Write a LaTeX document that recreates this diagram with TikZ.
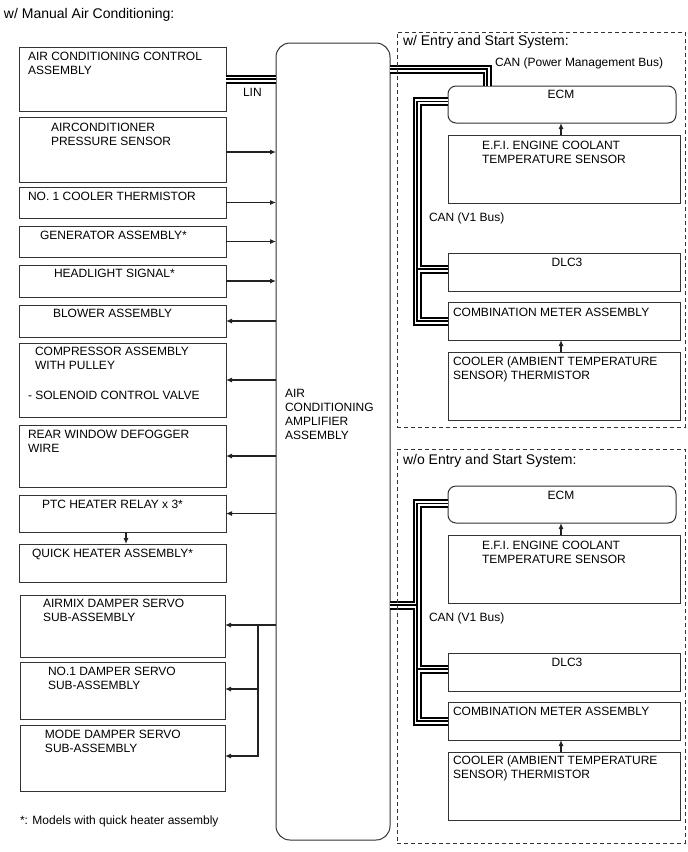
\documentclass[tikz,border=0pt]{standalone}
\usepackage{fontspec}
\setmainfont{Liberation Sans}
\usetikzlibrary{arrows.meta}
\definecolor{boxc}{HTML}{333333}
\definecolor{linec}{HTML}{222222}
\begin{document}
\begin{tikzpicture}[x=1pt,y=-1pt,
  box/.style={draw=boxc, line width=1pt, rectangle, inner sep=0pt, outer sep=0pt},
  rbox/.style={box, rounded corners=8pt},
  txt/.style={anchor=base west, inner sep=0pt, outer sep=0pt, font=\fontsize{12}{14}\selectfont},
  htxt/.style={anchor=base west, inner sep=0pt, outer sep=0pt, font=\fontsize{14}{16}\selectfont},
  ctxt/.style={anchor=base, inner sep=0pt, outer sep=0pt, font=\fontsize{12}{14}\selectfont},
  arr/.style={draw=linec, line width=1.1pt, -{Latex[length=6pt,width=5pt]}},
  dbox/.style={draw=boxc, line width=1pt, dash pattern=on 4pt off 3pt, rectangle, inner sep=0pt, outer sep=0pt},
]
\useasboundingbox[fill=white] (0,0) rectangle (688,852);

% title
\node[htxt] (title) at (4,18) {w/ Manual Air Conditioning:};

% left boxes
\node[box, minimum width=207pt, minimum height=64pt] (L1) at (122.5,79) {};
\node[box, minimum width=207pt, minimum height=65pt] (L2) at (122.5,149.5) {};
\node[box, minimum width=207pt, minimum height=31pt] (L3) at (122.5,202.5) {};
\node[box, minimum width=207pt, minimum height=31pt] (L4) at (122.5,241.5) {};
\node[box, minimum width=207pt, minimum height=32pt] (L5) at (122.5,281) {};
\node[box, minimum width=207pt, minimum height=32pt] (L6) at (122.5,321) {};
\node[box, minimum width=207pt, minimum height=74pt] (L7) at (122.5,380) {};
\node[box, minimum width=207pt, minimum height=62pt] (L8) at (122.5,456) {};
\node[box, minimum width=207pt, minimum height=37pt] (L9) at (122.5,513.5) {};
\node[box, minimum width=207pt, minimum height=38pt] (L10) at (122.5,563) {};
\node[box, minimum width=205pt, minimum height=62pt] (L11) at (122.5,626) {};
\node[box, minimum width=205pt, minimum height=57pt] (L12) at (122.5,690.5) {};
\node[box, minimum width=205pt, minimum height=66pt] (L13) at (122.5,758) {};

% left texts
\node[txt] (t1a) at (28,60) {AIR CONDITIONING CONTROL};
\node[txt] (t1b) at (28,74) {ASSEMBLY};
\node[txt] (t2a) at (51,131) {AIRCONDITIONER};
\node[txt] (t2b) at (51,145) {PRESSURE SENSOR};
\node[txt] (t3) at (28,200) {NO. 1 COOLER THERMISTOR};
\node[txt] (t4) at (40,239) {GENERATOR ASSEMBLY*};
\node[txt] (t5) at (54,277) {HEADLIGHT SIGNAL*};
\node[txt] (t6) at (53,317) {BLOWER ASSEMBLY};
\node[txt] (t7a) at (35,355) {COMPRESSOR ASSEMBLY};
\node[txt] (t7b) at (35,369) {WITH PULLEY};
\node[txt] (t7c) at (28,399) {- SOLENOID CONTROL VALVE};
\node[txt] (t8a) at (28,438) {REAR WINDOW DEFOGGER};
\node[txt] (t8b) at (28,452) {WIRE};
\node[txt] (t9) at (42,508) {PTC HEATER RELAY x 3*};
\node[txt] (t10) at (32,557) {QUICK HEATER ASSEMBLY*};
\node[txt] (t11a) at (43,607) {AIRMIX DAMPER SERVO};
\node[txt] (t11b) at (43,621) {SUB-ASSEMBLY};
\node[txt] (t12a) at (48,675) {NO.1 DAMPER SERVO};
\node[txt] (t12b) at (48,689) {SUB-ASSEMBLY};
\node[txt] (t13a) at (45,738) {MODE DAMPER SERVO};
\node[txt] (t13b) at (45,752) {SUB-ASSEMBLY};
\node[txt] (foot) at (20,824) {*: Models with quick heater assembly};

% amplifier
\node[box, rounded corners=14pt, minimum width=114pt, minimum height=797pt] (amp) at (333,441.5) {};
\node[txt] (ta1) at (285,397) {AIR};
\node[txt] (ta2) at (285,411) {CONDITIONING};
\node[txt] (ta3) at (285,425) {AMPLIFIER};
\node[txt] (ta4) at (285,439) {ASSEMBLY};

% right upper boxes
\node[rbox, minimum width=228pt, minimum height=37pt] (E1) at (562,104.5) {};
\node[box, minimum width=232pt, minimum height=68pt] (F1) at (564,169) {};
\node[box, minimum width=232pt, minimum height=38pt] (G1) at (564,272) {};
\node[box, minimum width=232pt, minimum height=38pt] (H1) at (564,321) {};
\node[box, minimum width=232pt, minimum height=68pt] (K1) at (564,386) {};
% right lower boxes
\node[rbox, minimum width=228pt, minimum height=37pt] (E2) at (562,504.5) {};
\node[box, minimum width=232pt, minimum height=68pt] (F2) at (564,569) {};
\node[box, minimum width=232pt, minimum height=38pt] (G2) at (564,672) {};
\node[box, minimum width=232pt, minimum height=38pt] (H2) at (564,721) {};
\node[box, minimum width=232pt, minimum height=68pt] (K2) at (564,786) {};

% right texts
\node[htxt] (ws1) at (403,45) {w/ Entry and Start System:};
\node[txt] (pmbl) at (495,66) {CAN (Power Management Bus)};
\node[ctxt] (te1) at (561,98) {ECM};
\node[txt] (tf1a) at (482,149) {E.F.I. ENGINE COOLANT};
\node[txt] (tf1b) at (482,163) {TEMPERATURE SENSOR};
\node[txt] (cv1) at (429,221.5) {CAN (V1 Bus)};
\node[ctxt] (tg1) at (567,266) {DLC3};
\node[txt] (th1) at (453,316) {COMBINATION METER ASSEMBLY};
\node[txt] (tk1a) at (453,365) {COOLER (AMBIENT TEMPERATURE};
\node[txt] (tk1b) at (453,379) {SENSOR) THERMISTOR};

\node[htxt] (ws2) at (403,464) {w/o Entry and Start System:};
\node[ctxt] (te2) at (561,499) {ECM};
\node[txt] (tf2a) at (482,549) {E.F.I. ENGINE COOLANT};
\node[txt] (tf2b) at (482,563) {TEMPERATURE SENSOR};
\node[txt] (cv2) at (429,621.5) {CAN (V1 Bus)};
\node[ctxt] (tg2) at (567,666) {DLC3};
\node[txt] (th2) at (453,715) {COMBINATION METER ASSEMBLY};
\node[txt] (tk2a) at (453,764) {COOLER (AMBIENT TEMPERATURE};
\node[txt] (tk2b) at (453,778) {SENSOR) THERMISTOR};

\node[txt] (lin) at (243,96.5) {LIN};

% bus coordinates
\coordinate (pmb) at (487,69);
\coordinate (vU) at (417,0);
\coordinate (vL) at (417,0);
\coordinate (cL) at (0,605);
\coordinate (e1w) at ([yshift=3pt]E1.west);
\coordinate (g1w) at ([yshift=3pt]G1.west);
\coordinate (e2w) at ([yshift=1pt]E2.west);
\coordinate (g2w) at ([yshift=3pt]G2.west);

% buses (layered: outer black, white, inner black)
\foreach \lw/\lc in {9pt/black,5pt/white,1.2pt/black}{
  \draw[line width=\lw, draw=\lc, line join=miter, line cap=butt]
    (L1.east) -- (L1.east -| amp.west)
    (amp.east |- pmb) -- (pmb) -- (pmb |- E1.north)
    (e1w) -| (vU |- H1.west) -- (H1.west)
    (vU |- g1w) -- (g1w)
    (e2w) -| (vL |- H2.west) -- (H2.west)
    (vL |- g2w) -- (g2w)
    (amp.east |- cL) -- (vL |- cL);
}

% dashed frames
\node[dbox, minimum width=288pt, minimum height=395pt] (D1) at (541,229.5) {};
\node[dbox, minimum width=288pt, minimum height=394pt] (D2) at (541,646) {};

% arrows to amplifier
\coordinate (l2e) at ([yshift=-2.5pt]L2.east);
\draw[arr] (l2e) -- (l2e -| amp.west);
\draw[arr] (L3.east) -- (L3.east -| amp.west);
\draw[arr] (L4.east) -- (L4.east -| amp.west);
\draw[arr] (L5.east) -- (L5.east -| amp.west);
% arrows from amplifier
\draw[arr] (L6.east -| amp.west) -- (L6.east);
\draw[arr] (L7.east -| amp.west) -- (L7.east);
\draw[arr] (L8.east -| amp.west) -- (L8.east);
\draw[arr] (L9.east -| amp.west) -- (L9.east);
\coordinate (l9s) at ([xshift=3.5pt]L9.south);
\draw[arr] (l9s) -- (l9s |- L10.north);
\coordinate (br) at (258,0);
\coordinate (l11e) at ([yshift=1pt]L11.east);
\coordinate (l12e) at ([yshift=1.5pt]L12.east);
\coordinate (l13e) at ([yshift=2pt]L13.east);
\draw[arr] (l11e -| amp.west) -- (l11e);
\draw[arr] (br |- l11e) -- (br |- l13e) -- (l13e);
\draw[arr] (br |- l12e) -- (l12e);

% right arrows
\draw[arr] (F1.north -| te1) -- (E1.south -| te1);
\draw[arr] (K1.north -| te1) -- (H1.south -| te1);
\draw[arr] (F2.north -| te2) -- (E2.south -| te2);
\draw[arr] (K2.north -| te2) -- (H2.south -| te2);
\end{tikzpicture}
\end{document}
